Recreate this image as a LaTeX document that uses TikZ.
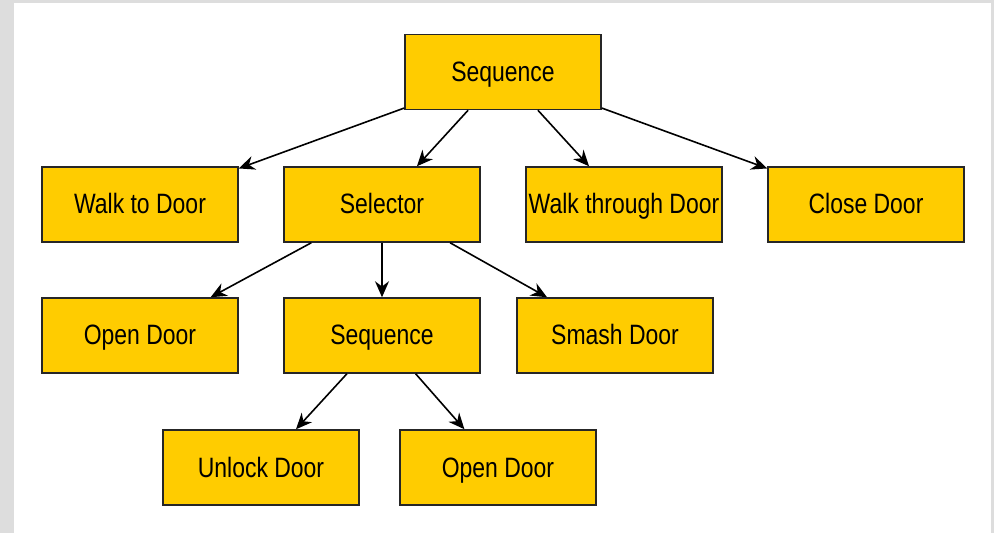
\documentclass[tikz,border=0pt]{standalone}
\usepackage{fontspec}
\setmainfont{Liberation Sans}
\newfontfamily\boxfont[FakeStretch=0.82]{Liberation Sans}
\usetikzlibrary{arrows.meta}
\definecolor{boxfill}{HTML}{FFCC00}
\definecolor{framegray}{HTML}{DDDDDD}
\begin{document}
\begin{tikzpicture}[
    x=0.5pt, y=-0.5pt,
    task/.style={rectangle, draw=black!85, line width=0.75pt, fill=boxfill,
        minimum width=98pt, minimum height=37.5pt, inner sep=0pt,
        text height=10pt, text depth=0.5pt,
        font=\boxfont\fontsize{14}{16}\selectfont},
    link/.style={->, line width=0.8pt},
    >={Stealth[length=8pt,width=7pt]}
]
% Sfondo
\fill[framegray] (0,0) rectangle (994,533);
\fill[white] (14,3) rectangle (991,533);
\useasboundingbox (0,0) rectangle (994,533);

% Albero
\node[task] (seq) at (503,72) {Sequence};
\node[task] (walk) at (140,204.5) {Walk to Door};
\node[task] (sel) at (382,204.5) {Selector};
\node[task] (through) at (624,204.5) {Walk through Door};
\node[task] (close) at (866,204.5) {Close Door};
\node[task] (open) at (140,335.5) {Open Door};
\node[task] (seqb) at (382,335.5) {Sequence};
\node[task] (smash) at (615,335.5) {Smash Door};
\node[task] (unlock) at (261,467.5) {Unlock Door};
\node[task] (openb) at (498,467.5) {Open Door};

\draw[link] (seq) -- (walk);
\draw[link] (seq) -- (sel);
\draw[link] (seq) -- (through);
\draw[link] (seq) -- (close);
\draw[link] (sel) -- (open);
\draw[link] (sel) -- (seqb);
\draw[link] (sel) -- (smash);
\draw[link] (seqb) -- (unlock);
\draw[link] (seqb) -- (openb);
\end{tikzpicture}
\end{document}
